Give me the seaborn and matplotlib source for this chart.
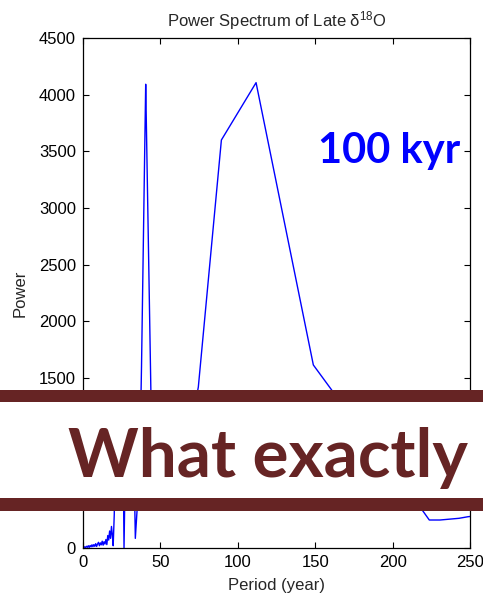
import matplotlib
matplotlib.use("Agg")
import matplotlib.pyplot as plt
from matplotlib.patches import Rectangle
import seaborn as sns
import pandas as pd

# ---- data ----
period = [0.3, 1.0, 1.6, 2.2, 2.8, 3.4, 4.0, 4.6, 5.2, 5.8, 6.4, 7.0, 7.6, 8.2, 8.8,
          9.4, 10.0, 10.6, 11.2, 11.8, 12.4, 13.0, 13.6, 14.2, 14.8, 15.4, 16.0,
          16.6, 17.2, 17.8, 18.4, 19.0, 19.5, 20.2, 20.9, 21.7, 22.5, 23.3, 24.3,
          25.0, 25.6, 26.5, 27.6, 28.3, 29.0, 30.0, 31.0, 31.6, 32.3, 33.8, 36.6,
          37.8, 40.0, 40.5, 40.9, 44.7, 49.7, 55.9, 63.9, 74.5, 89.4, 111.8,
          148.8, 160.6, 180.0, 200.0, 219.6, 223.7, 230.6, 242.9, 248.7, 250.0]
power = [3, 10, 4, 15, 6, 20, 5, 22, 10, 28, 12, 30, 15, 38, 14,
         35, 50, 20, 45, 28, 60, 25, 55, 35, 75, 30, 110,
         70, 150, 85, 190, 110, 20, 300, 1100, 500, 650, 400, 1200,
         900, 1300, 0, 1000, 800, 1250, 600, 1100, 700, 1300, 85, 700,
         1600, 3635, 4092, 3768, 700, 450, 500, 650, 1420, 3600, 4106,
         1615, 1395, 950, 620, 326, 247, 247, 262, 276, 278]
x_ticks = [0, 50, 100, 150, 200, 250]
y_ticks = [0, 500, 1000, 1500, 2000, 2500, 3000, 3500, 4000, 4500]
title = "Power Spectrum of Late \u03b4$^{18}$O"
xlabel = "Period (year)"
ylabel = "Power"
annot = "100 kyr"
banner = "What exactly"

df = pd.DataFrame({"period": period, "power": power})

sns.set_style("ticks")
plt.rcParams["font.family"] = ["Liberation Sans", "DejaVu Sans"]
plt.rcParams["mathtext.fontset"] = "custom"
plt.rcParams["mathtext.rm"] = "Liberation Sans"
plt.rcParams["mathtext.it"] = "Liberation Sans"

W, H = 483, 597
fig = plt.figure(figsize=(W / 100, H / 100), dpi=100)
ax = fig.add_axes([83 / W, 1 - 548 / H, (470 - 83) / W, (548 - 38) / H])

sns.lineplot(data=df, x="period", y="power", ax=ax, color="#0000ff",
             linewidth=1.0, estimator=None, sort=False)

# banner band covers y from ~326 to ~1395 power: labels there are hidden
hidden = {500, 1000}
ax.set_xlim(0, 250)
ax.set_ylim(0, 4500)
ax.set_xticks(x_ticks)
ax.set_yticks(y_ticks)
ax.set_xticklabels([str(v) for v in x_ticks])
ax.set_yticklabels(["" if v in hidden else str(v) for v in y_ticks])
ax.tick_params(direction="in", length=4, width=0.8, top=True, right=True,
               labelsize=12, colors="black", pad=5)
for s in ax.spines.values():
    s.set_visible(True)
    s.set_color("black")
    s.set_linewidth(0.9)
ax.set_title(title, fontsize=12, pad=8)
ax.set_xlabel(xlabel, fontsize=12, labelpad=6)
ax.set_ylabel(ylabel, fontsize=12, labelpad=8)

fig.text(318 / W, 1 - 163 / H, annot, color="#0000ff", fontsize=30,
         fontweight="bold", family="Lato", ha="left", va="baseline")

maroon = "#662424"
fig.add_artist(Rectangle((0, 1 - 511 / H), 1, (511 - 390) / H,
                         transform=fig.transFigure, facecolor="white",
                         edgecolor="none", zorder=10))
fig.add_artist(Rectangle((0, 1 - 402 / H), 1, 12 / H,
                         transform=fig.transFigure, facecolor=maroon,
                         edgecolor="none", zorder=11))
fig.add_artist(Rectangle((0, 1 - 511 / H), 1, 13 / H,
                         transform=fig.transFigure, facecolor=maroon,
                         edgecolor="none", zorder=11))
fig.text(68 / W, 1 - 477 / H, banner, color=maroon, fontsize=48.5,
         fontweight="bold", family="Lato", ha="left", va="baseline", zorder=12)

fig.savefig("out.png", dpi=100)
